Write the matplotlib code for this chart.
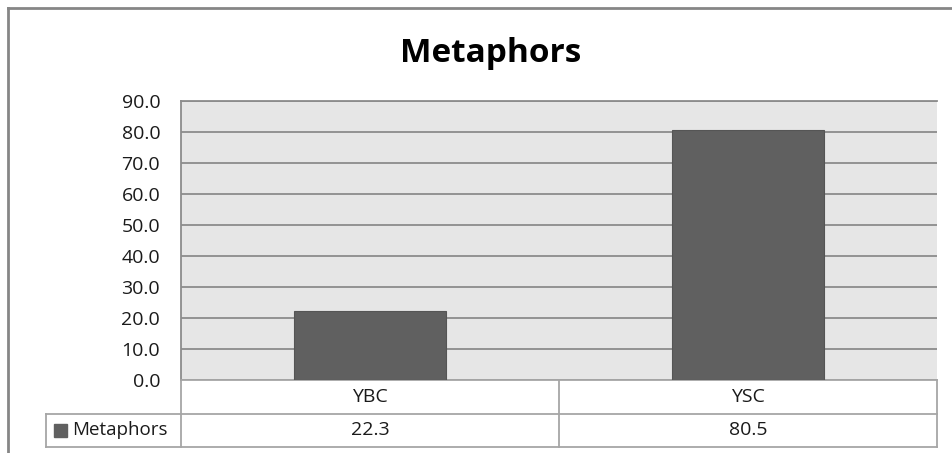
import numpy as np
import matplotlib
matplotlib.use("Agg")
import matplotlib.pyplot as plt
from matplotlib.lines import Line2D
from matplotlib.patches import Rectangle

plt.rcParams['font.family'] = ['Open Sans', 'DejaVu Sans']

# chart data
title = "Metaphors"
series_name = "Metaphors"
categories = ["YBC", "YSC"]
values = [22.3, 80.5]
y_ticks = [0, 10, 20, 30, 40, 50, 60, 70, 80, 90]

W, H = 952, 453
bar_color = "#606060"
grid_color = "#8c8c8c"
table_color = "#a6a6a6"
text_color = "#1a1a1a"

fig = plt.figure(figsize=(W / 100, H / 100), dpi=100)

# plot area in pixels: left, top, right, bottom
pl, pt, pr, pb = 181, 101, 937, 380
ax = fig.add_axes([pl / W, 1 - pb / H, (pr - pl) / W, (pb - pt) / H])
ax.set_facecolor("#e6e6e6")

x = np.arange(len(categories))
ax.bar(x, values, width=0.40, color=bar_color, edgecolor="#555555",
       linewidth=0.8, zorder=3)

ax.set_xlim(-0.5, len(categories) - 0.5)
ax.set_ylim(y_ticks[0], y_ticks[-1])
ax.set_yticks(y_ticks)
ax.set_yticklabels([f"{v:.1f}" for v in y_ticks], fontsize=14, color=text_color)
ax.set_xticks([])
ax.tick_params(axis="y", length=0, pad=15)
ax.yaxis.grid(True, color=grid_color, linewidth=1.3, zorder=1)
ax.set_axisbelow(True)
for side in ["top", "right"]:
    ax.spines[side].set_visible(False)
ax.spines["left"].set_color(grid_color)
ax.spines["left"].set_linewidth(1.3)
ax.spines["bottom"].set_color(table_color)
ax.spines["bottom"].set_linewidth(1.3)
# top gridline doubles as the upper border of the plot
ax.axhline(y_ticks[-1], color=grid_color, linewidth=1.3, clip_on=False, zorder=2)

# data table under the axis: x in data units, y in axes fraction
trans = ax.get_xaxis_transform()
unit = (pr - pl) / len(categories)
row_h = 33.5 / (pb - pt)
left_col = -0.5 - (pl - 46) / unit
x_right = len(categories) - 0.5

def tline(xs, ys):
    ax.add_line(Line2D(xs, ys, transform=trans, color=table_color,
                       linewidth=1.3, clip_on=False))

tline([left_col, x_right], [-row_h, -row_h])
tline([left_col, x_right], [-2 * row_h, -2 * row_h])
tline([left_col, left_col], [-row_h, -2 * row_h])
tline([-0.5, -0.5], [0, -2 * row_h])
tline([x_right, x_right], [0, -2 * row_h])
for i in range(1, len(categories)):
    tline([i - 0.5, i - 0.5], [0, -2 * row_h])

for xi, cat, val in zip(x, categories, values):
    ax.text(xi, -0.5 * row_h, cat, transform=trans, ha="center", va="center",
            fontsize=14, color=text_color)
    ax.text(xi, -1.5 * row_h, f"{val:.1f}", transform=trans, ha="center",
            va="center", fontsize=14, color=text_color)

# legend key inside the table
key_x = -0.5 - (pl - 54) / unit
key_w = 13 / unit
key_h = 13 / (pb - pt)
ax.add_patch(Rectangle((key_x, -1.5 * row_h - key_h / 2), key_w, key_h,
                       transform=trans, color=bar_color, clip_on=False))
ax.text(-0.5 - (pl - 72) / unit, -1.5 * row_h, series_name, transform=trans,
        ha="left", va="center", fontsize=13.5, color=text_color)

# title
fig.text(491 / W, 1 - 53 / H, title, ha="center", va="center",
         fontsize=24, fontweight="bold", color="black")

# chart frame (only the top and left edges fall inside the image)
fig.add_artist(Line2D([7.5 / W, 1], [1 - 7.5 / H, 1 - 7.5 / H],
                      transform=fig.transFigure, color="#868686", linewidth=2))
fig.add_artist(Line2D([7.5 / W, 7.5 / W], [0, 1 - 7.5 / H],
                      transform=fig.transFigure, color="#868686", linewidth=2))

fig.savefig("out.png", dpi=100, facecolor="white")
